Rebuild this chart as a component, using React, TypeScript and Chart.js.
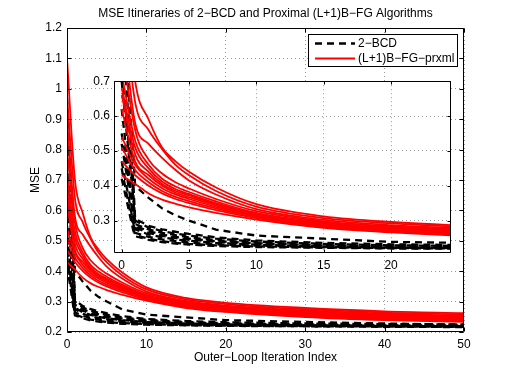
import React, { useEffect, useRef } from "react";
import { Chart, registerables } from "chart.js";

Chart.register(...registerables);

const FONT = "'Liberation Sans', Arial, Helvetica, sans-serif";

const TITLE = "MSE Itineraries of 2−BCD and Proximal (L+1)B−FG Algorithms";
const X_LABEL = "Outer−Loop Iteration Index";
const Y_LABEL = "MSE";
const LEGEND_LABELS = ["2−BCD", "(L+1)B−FG−prxml"];

const mainXTicks = [0, 10, 20, 30, 40, 50];
const mainYTicks = [0.2, 0.3, 0.4, 0.5, 0.6, 0.7, 0.8, 0.9, 1.0, 1.1, 1.2];
const insetXTicks = [0, 5, 10, 15, 20];
const insetYTicks = [0.3, 0.4, 0.5, 0.6, 0.7];

// (L+1)B-FG-prxml runs, sampled at these outer iterations
const fgX = [0, 1, 2, 3, 4, 5, 7, 10, 15, 20, 30, 40, 50];
const fg1 = [1.10, 0.70, 0.59, 0.51, 0.47, 0.44, 0.395, 0.347, 0.312, 0.296, 0.279, 0.268, 0.262];
const fg2 = [0.98, 0.64, 0.56, 0.505, 0.46, 0.43, 0.385, 0.340, 0.307, 0.292, 0.275, 0.264, 0.258];
const fg3 = [0.90, 0.58, 0.52, 0.48, 0.445, 0.415, 0.375, 0.333, 0.302, 0.287, 0.271, 0.260, 0.254];
const fg4 = [0.80, 0.56, 0.475, 0.435, 0.41, 0.392, 0.362, 0.327, 0.298, 0.284, 0.268, 0.257, 0.251];
const fg5 = [0.72, 0.53, 0.46, 0.42, 0.398, 0.382, 0.355, 0.322, 0.295, 0.281, 0.265, 0.255, 0.249];
const fg6 = [0.68, 0.51, 0.45, 0.412, 0.39, 0.376, 0.35, 0.319, 0.292, 0.279, 0.263, 0.253, 0.247];
const fg7 = [0.66, 0.49, 0.44, 0.405, 0.385, 0.372, 0.347, 0.316, 0.290, 0.277, 0.261, 0.251, 0.245];
const fg8 = [0.62, 0.47, 0.43, 0.40, 0.38, 0.367, 0.343, 0.314, 0.288, 0.275, 0.259, 0.249, 0.243];
const fg9 = [0.54, 0.46, 0.42, 0.393, 0.375, 0.362, 0.339, 0.312, 0.286, 0.273, 0.257, 0.247, 0.241];
const fg10 = [0.51, 0.445, 0.41, 0.385, 0.368, 0.356, 0.335, 0.310, 0.284, 0.271, 0.255, 0.245, 0.239];
const fg11 = [0.47, 0.43, 0.40, 0.378, 0.362, 0.35, 0.330, 0.307, 0.282, 0.269, 0.252, 0.242, 0.236];
const fg12 = [0.43, 0.405, 0.378, 0.36, 0.348, 0.338, 0.322, 0.303, 0.279, 0.266, 0.249, 0.239, 0.233];
const fgRuns = [fg1, fg2, fg3, fg4, fg5, fg6, fg7, fg8, fg9, fg10, fg11, fg12];

// 2-BCD runs
const bcdX = [0, 0.5, 0.85, 1, 2, 3, 4, 5, 7, 10, 15, 20, 30, 40, 50];
const bcd1 = [0.97, 0.68, 0.50, 0.40, 0.365, 0.335, 0.315, 0.30, 0.274, 0.257, 0.248, 0.239, 0.233, 0.228, 0.224];
const bcd2 = [0.88, 0.60, 0.42, 0.305, 0.285, 0.275, 0.268, 0.262, 0.252, 0.243, 0.236, 0.232, 0.228, 0.226, 0.225];
const bcd3 = [0.75, 0.53, 0.39, 0.300, 0.280, 0.270, 0.263, 0.257, 0.248, 0.240, 0.233, 0.229, 0.226, 0.224, 0.223];
const bcd4 = [0.70, 0.50, 0.37, 0.290, 0.275, 0.265, 0.258, 0.252, 0.244, 0.237, 0.231, 0.227, 0.224, 0.222, 0.221];
const bcd5 = [0.62, 0.45, 0.34, 0.285, 0.270, 0.260, 0.253, 0.248, 0.241, 0.235, 0.229, 0.226, 0.223, 0.221, 0.220];
const bcd6 = [0.55, 0.42, 0.33, 0.280, 0.265, 0.256, 0.250, 0.245, 0.239, 0.233, 0.228, 0.225, 0.222, 0.220, 0.219];
const bcd7 = [0.52, 0.40, 0.31, 0.275, 0.260, 0.252, 0.246, 0.242, 0.236, 0.231, 0.226, 0.223, 0.221, 0.219, 0.218];
const bcd8 = [0.47, 0.37, 0.295, 0.265, 0.253, 0.246, 0.241, 0.237, 0.232, 0.228, 0.224, 0.222, 0.220, 0.218, 0.217];
const bcd9 = [0.45, 0.35, 0.282, 0.258, 0.248, 0.241, 0.236, 0.233, 0.229, 0.226, 0.223, 0.221, 0.219, 0.218, 0.217];
const bcd10 = [0.42, 0.335, 0.273, 0.255, 0.245, 0.238, 0.234, 0.231, 0.227, 0.224, 0.222, 0.220, 0.219, 0.218, 0.216];
const bcdRuns = [bcd1, bcd2, bcd3, bcd4, bcd5, bcd6, bcd7, bcd8, bcd9, bcd10];

const RED = "#ff0000";
const BLACK = "#000000";
const GRID = "rgba(0,0,0,0.4)";
const RED_W = 1.8;
const BLACK_W = 2.3;
const DASH = [7, 5];

function buildDatasets() {
  const ds: any[] = [];
  fgRuns.forEach((run) => {
    ds.push({
      data: fgX.map((x, i) => ({ x, y: run[i] })),
      borderColor: RED,
      borderWidth: RED_W,
      pointRadius: 0,
      fill: false,
      cubicInterpolationMode: "monotone",
    });
  });
  bcdRuns.forEach((run) => {
    ds.push({
      data: bcdX.map((x, i) => ({ x, y: run[i] })),
      borderColor: BLACK,
      borderWidth: BLACK_W,
      borderDash: DASH,
      pointRadius: 0,
      fill: false,
      tension: 0,
    });
  });
  return ds;
}

function framePlugin(tickLen: number) {
  return {
    id: "frame",
    afterDatasetsDraw(chart: any) {
      const { ctx, chartArea: ca, scales } = chart;
      ctx.save();
      ctx.setLineDash([]);
      ctx.strokeStyle = "#000";
      ctx.lineWidth = 1;
      const L = Math.round(ca.left) + 0.5;
      const R = Math.round(ca.right) - 0.5;
      const T = Math.round(ca.top) + 0.5;
      const B = Math.round(ca.bottom) - 0.5;
      ctx.beginPath();
      ctx.rect(L, T, R - L, B - T);
      scales.x.ticks.forEach((t: any) => {
        const px = Math.round(scales.x.getPixelForValue(t.value)) + 0.5;
        ctx.moveTo(px, B);
        ctx.lineTo(px, B - tickLen);
        ctx.moveTo(px, T);
        ctx.lineTo(px, T + tickLen);
      });
      scales.y.ticks.forEach((t: any) => {
        const py = Math.round(scales.y.getPixelForValue(t.value)) + 0.5;
        ctx.moveTo(L, py);
        ctx.lineTo(L + tickLen, py);
        ctx.moveTo(R, py);
        ctx.lineTo(R - tickLen, py);
      });
      ctx.stroke();
      ctx.restore();
    },
  };
}

// Title centred over the plot area (as in MATLAB)
const titlePlugin = {
  id: "areaTitle",
  afterDraw(chart: any) {
    const { ctx, chartArea: ca } = chart;
    ctx.save();
    ctx.font = `12px ${FONT}`;
    ctx.fillStyle = "#000";
    ctx.textAlign = "center";
    ctx.textBaseline = "middle";
    ctx.fillText(TITLE, (ca.left + ca.right) / 2, ca.top - 14);
    ctx.restore();
  },
};

const legendPlugin = {
  id: "boxLegend",
  afterDraw(chart: any) {
    const { ctx, chartArea: ca } = chart;
    ctx.save();
    ctx.font = `12px ${FONT}`;
    const textW = Math.max(...LEGEND_LABELS.map((t) => ctx.measureText(t).width));
    const w = Math.round(50 + textW + 4);
    const h = 33;
    const right = Math.round(ca.right) - 6;
    const top = Math.round(ca.top) + 6;
    const left = right - w;
    ctx.fillStyle = "#fff";
    ctx.fillRect(left, top, w, h);
    ctx.strokeStyle = "#000";
    ctx.lineWidth = 1;
    ctx.strokeRect(left + 0.5, top + 0.5, w - 1, h - 1);
    const rows = [top + 9.5, top + 24.5];
    ctx.beginPath();
    ctx.setLineDash(DASH);
    ctx.lineWidth = BLACK_W;
    ctx.strokeStyle = BLACK;
    ctx.moveTo(left + 7, rows[0]);
    ctx.lineTo(left + 47, rows[0]);
    ctx.stroke();
    ctx.beginPath();
    ctx.setLineDash([]);
    ctx.lineWidth = RED_W;
    ctx.strokeStyle = RED;
    ctx.moveTo(left + 7, rows[1]);
    ctx.lineTo(left + 47, rows[1]);
    ctx.stroke();
    ctx.fillStyle = "#000";
    ctx.textBaseline = "middle";
    ctx.textAlign = "left";
    LEGEND_LABELS.forEach((t, i) => ctx.fillText(t, left + 50, rows[i]));
    ctx.restore();
  },
};

const whiteAreaPlugin = {
  id: "whiteArea",
  beforeDraw(chart: any) {
    const { ctx, chartArea: ca } = chart;
    ctx.save();
    ctx.fillStyle = "#fff";
    ctx.fillRect(ca.left, ca.top, ca.right - ca.left, ca.bottom - ca.top);
    ctx.restore();
  },
};

const fmt = (v: any) => String(Math.round(Number(v) * 10) / 10);
const tickFont = { family: FONT, size: 12 };

export default function App() {
  const mainRef = useRef<HTMLCanvasElement>(null);
  const insetRef = useRef<HTMLCanvasElement>(null);

  useEffect(() => {
    document.body.style.margin = "0";
    const main = new Chart(mainRef.current as HTMLCanvasElement, {
      type: "line",
      data: { datasets: buildDatasets() },
      options: {
        animation: false,
        responsive: false,
        devicePixelRatio: 1,
        layout: { padding: { left: 0, right: 48, top: 28, bottom: 0 } },
        plugins: {
          legend: { display: false },
          tooltip: { enabled: false },
          title: { display: false },
        },
        scales: {
          x: {
            type: "linear",
            min: 0,
            max: 50,
            afterBuildTicks: (s: any) => {
              s.ticks = mainXTicks.map((v) => ({ value: v }));
            },
            afterFit: (s: any) => {
              s.height = 42;
            },
            grid: { color: GRID, lineWidth: 1, drawTicks: false },
            border: { display: false, dash: [1, 3] },
            ticks: { color: "#000", font: tickFont, padding: 5, maxRotation: 0, autoSkip: false, callback: fmt },
            title: { display: true, text: X_LABEL, color: "#000", font: tickFont, padding: { top: 0, bottom: 9 } },
          },
          y: {
            type: "linear",
            min: 0.2,
            max: 1.2,
            afterBuildTicks: (s: any) => {
              s.ticks = mainYTicks.map((v) => ({ value: v }));
            },
            afterFit: (s: any) => {
              s.width = 67;
            },
            grid: { color: GRID, lineWidth: 1, drawTicks: false },
            border: { display: false, dash: [1, 3] },
            ticks: { color: "#000", font: tickFont, padding: 5, autoSkip: false, callback: fmt },
            title: { display: true, text: Y_LABEL, color: "#000", font: tickFont, padding: { top: 28, bottom: 0 } },
          },
        },
      } as any,
      plugins: [framePlugin(4), titlePlugin, legendPlugin],
    });

    const inset = new Chart(insetRef.current as HTMLCanvasElement, {
      type: "line",
      data: { datasets: buildDatasets() },
      options: {
        animation: false,
        responsive: false,
        devicePixelRatio: 1,
        layout: { padding: { left: 0, right: 9, top: 9, bottom: 0 } },
        plugins: {
          legend: { display: false },
          tooltip: { enabled: false },
          title: { display: false },
        },
        scales: {
          x: {
            type: "linear",
            min: -0.57,
            max: 24.45,
            afterBuildTicks: (s: any) => {
              s.ticks = insetXTicks.map((v) => ({ value: v }));
            },
            afterFit: (s: any) => {
              s.height = 32;
            },
            grid: { color: GRID, lineWidth: 1, drawTicks: false },
            border: { display: false, dash: [1, 3] },
            ticks: { color: "#000", font: tickFont, padding: 5, maxRotation: 0, autoSkip: false, callback: fmt },
          },
          y: {
            type: "linear",
            min: 0.207,
            max: 0.7,
            afterBuildTicks: (s: any) => {
              s.ticks = insetYTicks.map((v) => ({ value: v }));
            },
            afterFit: (s: any) => {
              s.width = 34;
            },
            grid: { color: GRID, lineWidth: 1, drawTicks: false },
            border: { display: false, dash: [1, 3] },
            ticks: { color: "#000", font: tickFont, padding: 4, autoSkip: false, callback: fmt },
          },
        },
      } as any,
      plugins: [whiteAreaPlugin, framePlugin(3)],
    });

    return () => {
      main.destroy();
      inset.destroy();
    };
  }, []);

  return (
    <div style={{ position: "fixed", left: 0, top: 0, width: 512, height: 374, background: "#fff" }}>
      <canvas ref={mainRef} width={512} height={374} style={{ position: "absolute", left: 0, top: 0 }} />
      <canvas ref={insetRef} width={380} height={215} style={{ position: "absolute", left: 80, top: 70 }} />
    </div>
  );
}
